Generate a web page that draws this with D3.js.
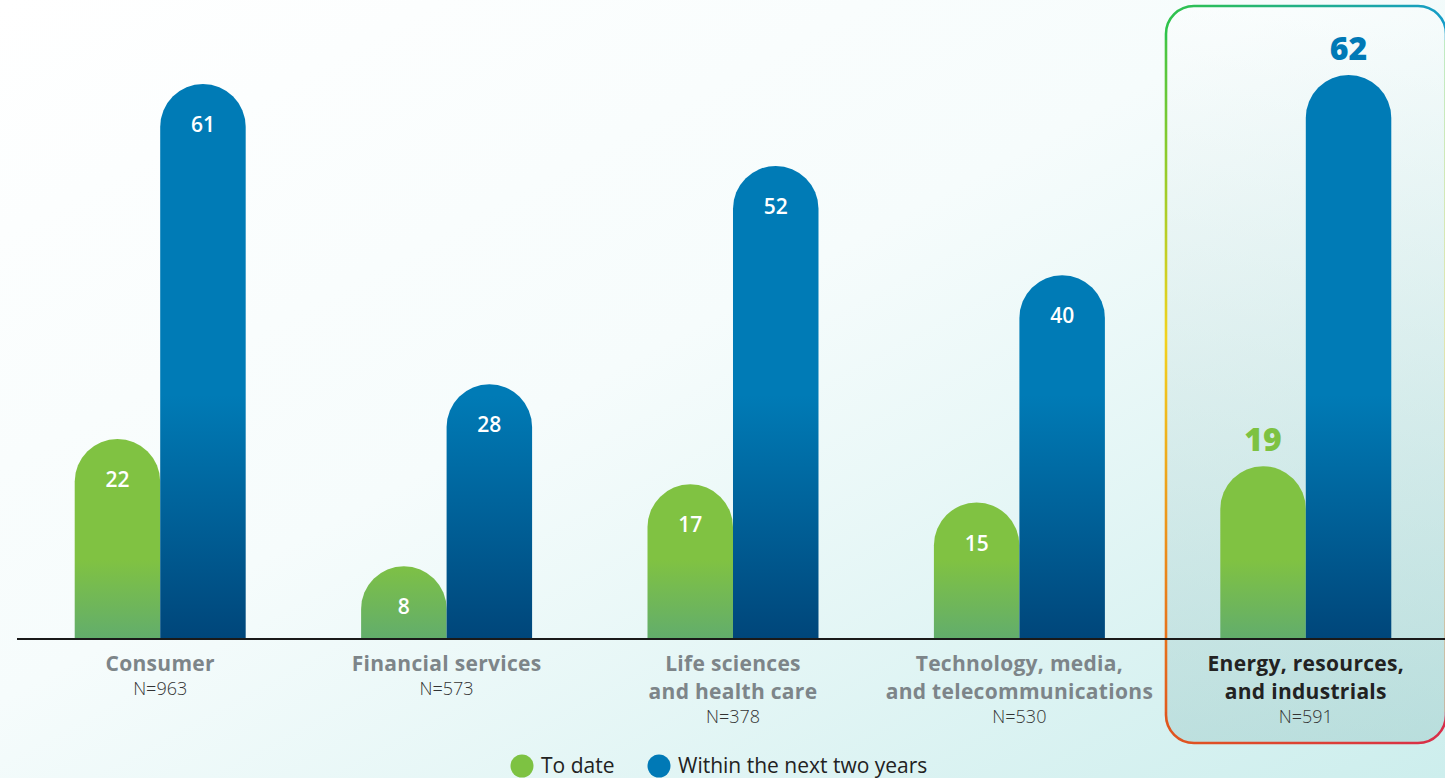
<!DOCTYPE html>
<html>
<head>
<meta charset="utf-8">
<script src="https://cdn.jsdelivr.net/npm/d3@7/dist/d3.min.js"></script>
<style>
  html, body { margin: 0; padding: 0; overflow: hidden; }
  body { font-family: 'Open Sans', sans-serif; }
</style>
</head>
<body>
<div id="chart"></div>
<script>
// Sectors (x axis) and their label lines
const CATEGORIES = ['Consumer', 'Financial services', 'Life sciences and health care',
  'Technology, media, and telecommunications', 'Energy, resources, and industrials'];
const LABEL_LINES = [
  ['Consumer'],
  ['Financial services'],
  ['Life sciences', 'and health care'],
  ['Technology, media,', 'and telecommunications'],
  ['Energy, resources,', 'and industrials']
];
const SAMPLE_SIZES = [963, 573, 378, 530, 591];

// Series values (%)
const SERIES = ['To date', 'Within the next two years'];
const TO_DATE = [22, 8, 17, 15, 19];
const NEXT_TWO_YEARS = [61, 28, 52, 40, 62];

const HIGHLIGHT = 'Energy, resources, and industrials';

const width = 1445;
const height = 778;
const baseY = 639;

const svg = d3.select('#chart').append('svg')
  .attr('width', width)
  .attr('height', height);

const defs = svg.append('defs');

// Background gradient
const bg = defs.append('linearGradient').attr('id', 'bgGrad')
  .attr('x1', '0%').attr('y1', '0%').attr('x2', '100%').attr('y2', '100%');
bg.append('stop').attr('offset', '0%').attr('stop-color', '#ffffff');
bg.append('stop').attr('offset', '45%').attr('stop-color', '#f6fcfc');
bg.append('stop').attr('offset', '100%').attr('stop-color', '#cdeeed');

// Bar gradients (user space so tall bars stay solid up top)
const blueGrad = defs.append('linearGradient').attr('id', 'blueGrad')
  .attr('gradientUnits', 'userSpaceOnUse')
  .attr('x1', 0).attr('y1', 395).attr('x2', 0).attr('y2', baseY);
blueGrad.append('stop').attr('offset', '0%').attr('stop-color', '#007bb6');
blueGrad.append('stop').attr('offset', '100%').attr('stop-color', '#00467a');

const greenGrad = defs.append('linearGradient').attr('id', 'greenGrad')
  .attr('gradientUnits', 'userSpaceOnUse')
  .attr('x1', 0).attr('y1', 560).attr('x2', 0).attr('y2', baseY);
greenGrad.append('stop').attr('offset', '0%').attr('stop-color', '#80c242');
greenGrad.append('stop').attr('offset', '100%').attr('stop-color', '#62ad6c');

// Highlight box gradients
const boxFill = defs.append('linearGradient').attr('id', 'boxFill')
  .attr('x1', '0%').attr('y1', '0%').attr('x2', '0%').attr('y2', '100%');
boxFill.append('stop').attr('offset', '0%').attr('stop-color', '#ffffff').attr('stop-opacity', 0.35);
boxFill.append('stop').attr('offset', '100%').attr('stop-color', '#8fbfbd').attr('stop-opacity', 0.35);

const strokeV = defs.append('linearGradient').attr('id', 'strokeV')
  .attr('x1', '0%').attr('y1', '0%').attr('x2', '0%').attr('y2', '100%');
strokeV.append('stop').attr('offset', '0%').attr('stop-color', '#2fc34b');
strokeV.append('stop').attr('offset', '20%').attr('stop-color', '#8ccb2c');
strokeV.append('stop').attr('offset', '45%').attr('stop-color', '#f2d21e');
strokeV.append('stop').attr('offset', '75%').attr('stop-color', '#eb8a1a');
strokeV.append('stop').attr('offset', '100%').attr('stop-color', '#e0521e');

const strokeTop = defs.append('linearGradient').attr('id', 'strokeTop')
  .attr('x1', '0%').attr('y1', '0%').attr('x2', '100%').attr('y2', '0%');
strokeTop.append('stop').attr('offset', '0%').attr('stop-color', '#2fc34b');
strokeTop.append('stop').attr('offset', '100%').attr('stop-color', '#149cc8');

const strokeBottom = defs.append('linearGradient').attr('id', 'strokeBottom')
  .attr('x1', '0%').attr('y1', '0%').attr('x2', '100%').attr('y2', '0%');
strokeBottom.append('stop').attr('offset', '0%').attr('stop-color', '#e0561e');
strokeBottom.append('stop').attr('offset', '100%').attr('stop-color', '#d82e4a');

svg.append('rect')
  .attr('width', width)
  .attr('height', height)
  .attr('fill', 'url(#bgGrad)');

// Scales
const x0 = d3.scaleBand()
  .domain(CATEGORIES)
  .range([17, 1449])
  .padding(0);

const x1 = d3.scaleBand()
  .domain(SERIES)
  .range([0, x0.bandwidth()])
  .paddingInner(0)
  .paddingOuter(0.675);

const y = d3.scaleLinear()
  .domain([0, 62])
  .range([baseY, 75]);

// Highlight box around the last sector
const box = { x: 1166, y: 6, w: 280, h: 737, r: 28 };
const boxG = svg.append('g');
boxG.append('rect')
  .attr('x', box.x).attr('y', box.y)
  .attr('width', box.w).attr('height', box.h)
  .attr('rx', box.r)
  .attr('fill', 'url(#boxFill)');

const clips = [
  { id: 'clipTop', y0: 0, y1: 40, stroke: 'url(#strokeTop)' },
  { id: 'clipMid', y0: 40, y1: 712, stroke: 'url(#strokeV)' },
  { id: 'clipBot', y0: 712, y1: height, stroke: 'url(#strokeBottom)' }
];
clips.forEach(c => {
  defs.append('clipPath').attr('id', c.id)
    .append('rect')
    .attr('x', 0).attr('y', c.y0)
    .attr('width', width).attr('height', c.y1 - c.y0);
  boxG.append('rect')
    .attr('x', box.x).attr('y', box.y)
    .attr('width', box.w).attr('height', box.h)
    .attr('rx', box.r)
    .attr('fill', 'none')
    .attr('stroke', c.stroke)
    .attr('stroke-width', 2.6)
    .attr('clip-path', `url(#${c.id})`);
});

// Rounded-top bar path
function barPath(x, w, top) {
  const r = w / 2;
  return `M${x},${baseY}L${x},${top + r}A${r},${r} 0 0 1 ${x + w},${top + r}L${x + w},${baseY}Z`;
}

const rows = CATEGORIES.map((c, i) => ({
  category: c,
  lines: LABEL_LINES[i],
  n: SAMPLE_SIZES[i],
  values: [
    { series: SERIES[0], value: TO_DATE[i], fill: 'url(#greenGrad)', color: '#7dc242' },
    { series: SERIES[1], value: NEXT_TWO_YEARS[i], fill: 'url(#blueGrad)', color: '#0079b6' }
  ]
}));

const groups = svg.selectAll('g.group')
  .data(rows)
  .join('g')
  .attr('class', 'group')
  .attr('transform', d => `translate(${x0(d.category)},0)`);

groups.each(function (row) {
  const g = d3.select(this);
  const hl = row.category === HIGHLIGHT;

  row.values.forEach(v => {
    const bx = x1(v.series);
    const bw = x1.bandwidth();
    const top = y(v.value);

    g.append('path')
      .attr('d', barPath(bx, bw, top))
      .attr('fill', v.fill);

    if (hl) {
      g.append('text')
        .attr('x', bx + bw / 2)
        .attr('y', top - 15)
        .attr('text-anchor', 'middle')
        .attr('font-size', 32)
        .attr('font-weight', 800)
        .attr('fill', v.color)
        .text(v.value);
    } else {
      g.append('text')
        .attr('x', bx + bw / 2)
        .attr('y', top + 48)
        .attr('text-anchor', 'middle')
        .attr('font-size', 21)
        .attr('font-weight', 600)
        .attr('fill', '#ffffff')
        .text(v.value);
    }
  });

  // Category label
  const cx = x0.bandwidth() / 2;
  row.lines.forEach((line, li) => {
    g.append('text')
      .attr('x', cx)
      .attr('y', 671 + li * 28)
      .attr('text-anchor', 'middle')
      .attr('font-size', 21)
      .attr('letter-spacing', 0.3)
      .attr('font-weight', 700)
      .attr('fill', hl ? '#222222' : '#7d8589')
      .text(line);
  });
  g.append('text')
    .attr('x', cx)
    .attr('y', 695 + (row.lines.length - 1) * 28)
    .attr('text-anchor', 'middle')
    .attr('font-size', 18)
    .attr('font-weight', 300)
    .attr('fill', '#333333')
    .text(`N=${row.n}`);
});

// Baseline axis
svg.append('line')
  .attr('x1', 17).attr('x2', width)
  .attr('y1', baseY).attr('y2', baseY)
  .attr('stroke', '#1a1a1a')
  .attr('stroke-width', 2);

// Legend
const legend = [
  { label: SERIES[0], color: '#7dc242', cx: 522 },
  { label: SERIES[1], color: '#0079b6', cx: 659 }
];
legend.forEach(l => {
  svg.append('circle')
    .attr('cx', l.cx).attr('cy', 766).attr('r', 11.5)
    .attr('fill', l.color);
  svg.append('text')
    .attr('x', l.cx + 19)
    .attr('y', 773)
    .attr('font-size', 21)
    .attr('fill', '#222222')
    .text(l.label);
});
</script>
</body>
</html>
